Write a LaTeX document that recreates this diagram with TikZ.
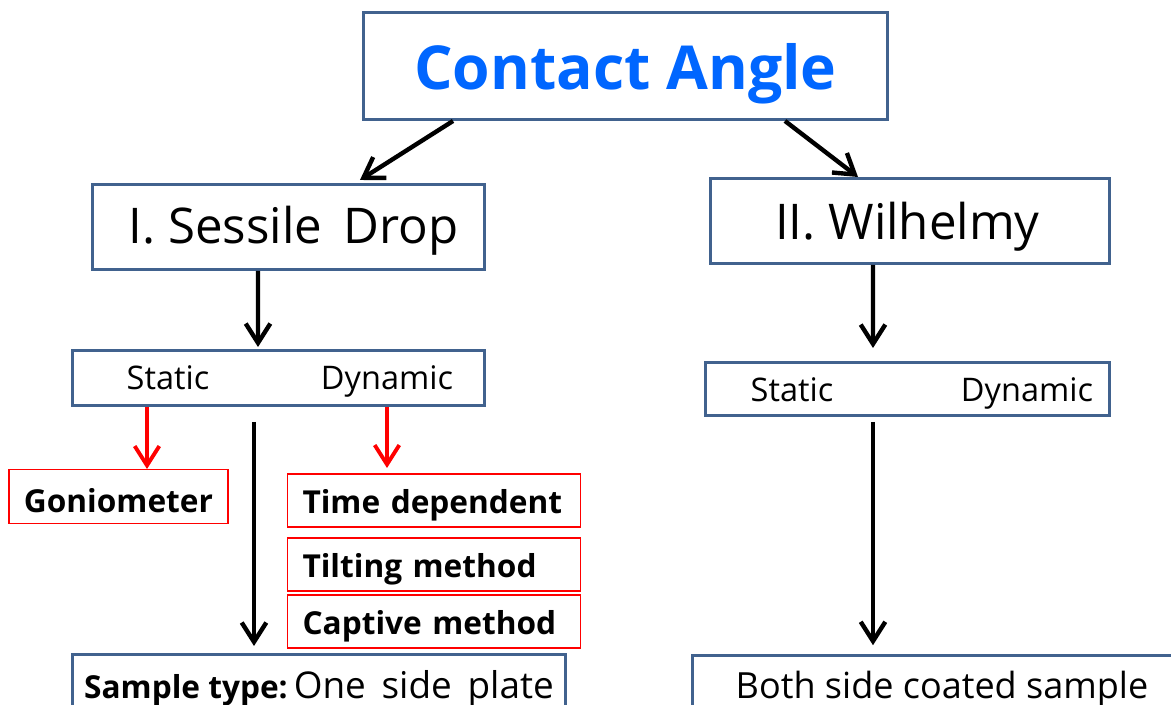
\documentclass[tikz,border=0pt]{standalone}
\usepackage{fontspec}
\setmainfont{Open Sans}
\usepackage{tikz}
\usetikzlibrary{arrows.meta,positioning}
\definecolor{boxblue}{RGB}{65,98,142}
\definecolor{titleblue}{RGB}{0,102,255}

\begin{document}
\begin{tikzpicture}[x=0.02cm, y=-0.02cm,
  bluebox/.style={draw=boxblue, line width=1.7pt, inner sep=0pt, anchor=north},
  redbox/.style={draw=red, line width=1.1pt, inner ysep=0pt, inner xsep=0.3cm, anchor=north,
    text width=5.26cm, text height=0.79cm, text depth=0.28cm,
    font=\fontsize{18}{22}\selectfont\bfseries},
  rowtext/.style={anchor=base, font=\fontsize{18.5}{22}\selectfont},
  arr/.style={line width=2.5pt, -{Straight Barb[length=11pt, width=14pt]}},
  redarr/.style={red, line width=2.2pt, -{Straight Barb[length=11pt, width=14pt]}}]
  \useasboundingbox (0,0) rectangle (1171,705);
  \clip (0,0) rectangle (1171,705);
  % Title
  \node[bluebox, minimum width=10.5cm, text height=1.54cm, text depth=0.6cm,
    font=\fontsize{34.5}{40}\selectfont\bfseries, text=titleblue]
    (title) at (625.5,11) {Contact Angle};
  % Two methods
  \node[bluebox, minimum width=7.86cm, text height=1.18cm, text depth=0.52cm,
    font=\fontsize{28}{32}\selectfont] (sessile) at (288.5,183) {\hspace*{0.2cm}I. Sessile\, Drop};
  \node[bluebox, minimum width=8cm, text height=1.22cm, text depth=0.48cm,
    font=\fontsize{28}{32}\selectfont] (wilhelmy) at (910,177) {II. Wilhelmy\hspace*{0.1cm}};
  % Static / Dynamic rows
  \node[bluebox, minimum width=8.26cm, minimum height=1.1cm] (lsd) at (278.5,349) {};
  \node[rowtext] (lstatic) at (168,390) {Static};
  \node[rowtext] (ldynamic) at (387,390) {Dynamic};
  \node[bluebox, minimum width=8.1cm, minimum height=1.06cm] (rsd) at (907.5,361) {};
  \node[rowtext] (rstatic) at (792,402) {Static};
  \node[rowtext] (rdynamic) at (1027,402) {Dynamic};
  % Red boxes
  \node[draw=red, line width=0.6pt, minimum width=4.38cm, inner sep=0pt, anchor=north,
    text height=0.86cm, text depth=0.22cm, font=\fontsize{18}{22}\selectfont\bfseries]
    (gonio) at (118.5,469) {Goniometer};
  \node[redbox] (timedep) at (434,473) {Time dependent};
  \node[redbox] (tilting) at (434,537) {Tilting method};
  \node[redbox] (captive) at (434,594) {Captive method};
  % Sample boxes (cut at the edge)
  \node[bluebox, minimum width=9.88cm, text height=0.88cm, text depth=0.6cm] (sample) at (319,653)
    {{\fontsize{18}{22}\selectfont\bfseries Sample type:}
     \fontsize{21}{26}\selectfont One\, side\, plate};
  \node[bluebox, minimum width=10cm, text height=0.86cm, text depth=0.6cm,
    font=\fontsize{20.5}{25}\selectfont] (both) at (942,654) {Both side coated sample};
  % Stems
  \coordinate (lstem) at (254,422);
  \coordinate (rstem) at (873,422);
  % Arrows
  \draw[arr] ([xshift=-3.45cm]title.south) -- ([xshift=1.43cm, yshift=0.06cm]sessile.north);
  \draw[arr] ([xshift=3.19cm]title.south) -- ([xshift=-1.04cm]wilhelmy.north);
  \draw[arr] ([xshift=-0.61cm]sessile.south) -- ([xshift=-0.41cm, yshift=0.04cm]lsd.north);
  \draw[arr] ([xshift=-0.74cm]wilhelmy.south) -- ([xshift=-0.69cm, yshift=0.26cm]rsd.north);
  \draw[redarr] ([xshift=-0.42cm]lstatic |- lsd.south) -- ([xshift=-0.42cm]lstatic |- gonio.north);
  \draw[redarr] (ldynamic |- lsd.south) -- ([yshift=0.1cm]ldynamic |- timedep.north);
  \draw[arr, shorten >=4pt] (lstem) -- (lstem |- sample.north);
  \draw[arr, shorten >=5pt] (rstem) -- (rstem |- both.north);
\end{tikzpicture}
\end{document}
